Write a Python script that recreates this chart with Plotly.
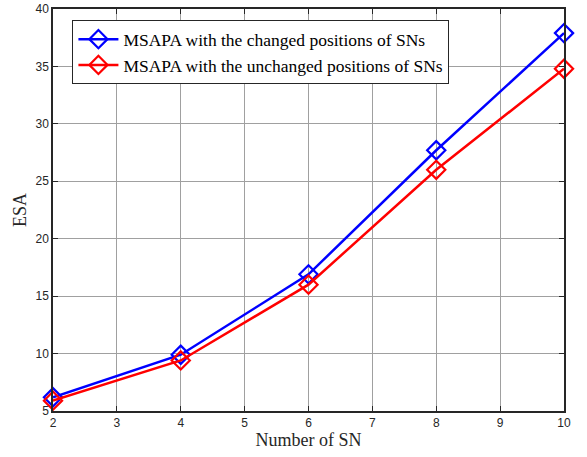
import plotly.graph_objects as go

sn = [2, 4, 6, 8, 10]
esa_changed = [6.2, 9.9, 16.9, 27.7, 37.9]
esa_unchanged = [5.9, 9.4, 16.0, 26.0, 34.8]
name_changed = "MSAPA with the changed positions of SNs"
name_unchanged = "MSAPA with the unchanged positions of SNs"
x_ticks = [2, 3, 4, 5, 6, 7, 8, 9, 10]
y_ticks = [5, 10, 15, 20, 25, 30, 35, 40]

fig = go.Figure()
fig.add_trace(go.Scatter(
    x=sn, y=esa_changed, mode="lines+markers", name=name_changed,
    line=dict(color="#0000ff", width=2.5),
    marker=dict(symbol="diamond-open", size=14, color="#0000ff", line=dict(width=2.2, color="#0000ff")),
    cliponaxis=False,
))
fig.add_trace(go.Scatter(
    x=sn, y=esa_unchanged, mode="lines+markers", name=name_unchanged,
    line=dict(color="#ff0000", width=2.5),
    marker=dict(symbol="diamond-open", size=14, color="#ff0000", line=dict(width=2.2, color="#ff0000")),
    cliponaxis=False,
))

axis_common = dict(
    showline=True, linecolor="#262626", linewidth=1.5, mirror="allticks",
    ticks="inside", ticklen=5, tickcolor="#262626", tickwidth=1,
    showgrid=True, gridcolor="#a0a0a0", gridwidth=1, zeroline=False,
    automargin=False,
    tickfont=dict(family="Liberation Sans, Arial", size=12, color="#262626"),
)

fig.update_layout(
    width=587, height=457,
    margin=dict(l=53, r=23, t=9, b=46),
    paper_bgcolor="white", plot_bgcolor="white",
    xaxis=dict(range=[2, 10], tickvals=x_ticks,
               title=dict(text="Number of SN", font=dict(family="Liberation Serif, Times New Roman", size=18, color="#262626"), standoff=4),
               **axis_common),
    yaxis=dict(range=[5, 40], tickvals=y_ticks,
               title=dict(text="ESA", font=dict(family="Liberation Serif, Times New Roman", size=18, color="#262626"), standoff=4),
               **axis_common),
    legend=dict(x=0.038, y=0.972, xanchor="left", yanchor="top",
                bgcolor="white", bordercolor="#262626", borderwidth=1,
                font=dict(family="Liberation Serif, Times New Roman", size=17.5, color="#000000"),
                tracegroupgap=0, itemwidth=40),
    showlegend=True,
)

fig.write_html("out.html", config={"displayModeBar": False},
               post_script="document.body.style.margin='0';document.body.style.padding='0';")
